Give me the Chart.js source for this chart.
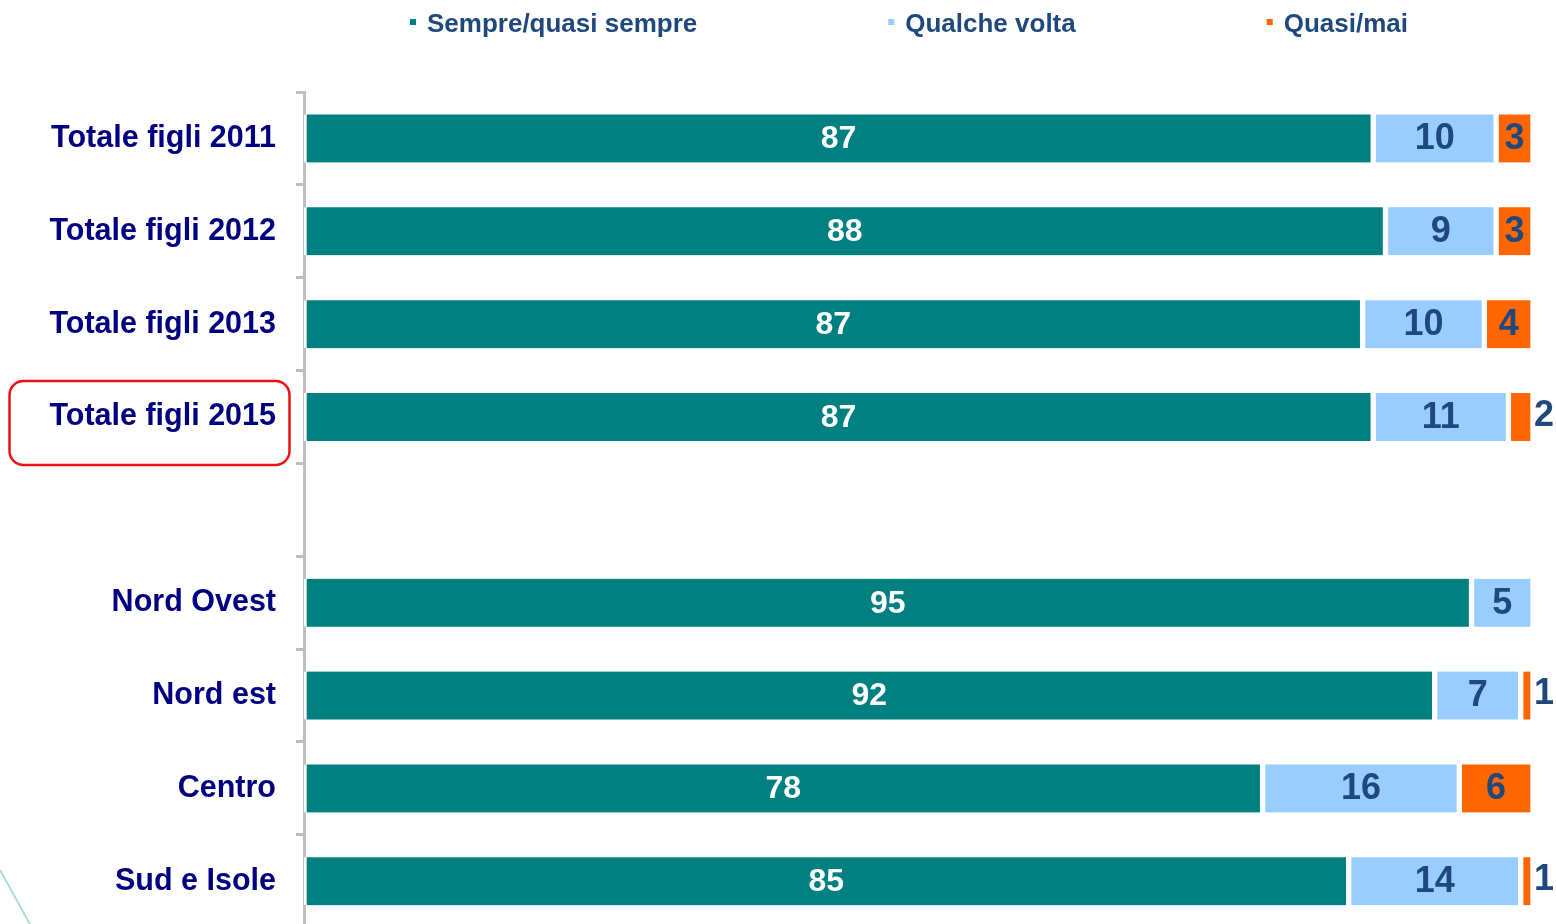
<!DOCTYPE html>
<html>
<head>
<meta charset="utf-8">
<script src="https://cdn.jsdelivr.net/npm/chart.js@4.4.1/dist/chart.umd.min.js"></script>
<style>
  html, body { margin: 0; padding: 0; background: #fff; overflow: hidden; }
  /* the last row runs past the bottom of the window */
  #wrap { position: relative; width: 1556px; height: 966px; }
</style>
</head>
<body>
<div id="wrap"><canvas id="freqChart"></canvas></div>
<script>
// categorie e valori (%)
const categories = [
  "Totale figli 2011",
  "Totale figli 2012",
  "Totale figli 2013",
  "Totale figli 2015",
  "",
  "Nord Ovest",
  "Nord est",
  "Centro",
  "Sud e Isole",
];
const sempre = [87, 88, 87, 87, null, 95, 92, 78, 85];
const qualche = [10, 9, 10, 11, null, 5, 7, 16, 14];
const quasiMai = [3, 3, 4, 2, null, null, 1, 6, 1];

const seriesNames = ["Sempre/quasi sempre", "Qualche volta", "Quasi/mai"];
const seriesColors = ["#008080", "#99CCFF", "#FF6600"];

const FONT = '"Liberation Sans", Arial, sans-serif';

// barre al 100%: ogni riga viene riportata sul suo totale
const totals = categories.map(function (c, i) {
  return (sempre[i] || 0) + (qualche[i] || 0) + (quasiMai[i] || 0);
});
function share(arr) {
  return arr.map(function (v, i) {
    return v == null ? null : (v / totals[i]) * 100;
  });
}

function makeDataset(idx, values) {
  return {
    label: seriesNames[idx],
    values: values,
    data: share(values),
    backgroundColor: seriesColors[idx],
    borderColor: "#ffffff",
    borderWidth: { left: 3, right: 3, top: 0, bottom: 0 },
    borderSkipped: false,
    barThickness: 48,
  };
}

/* ===== etichette dei valori ===== */
const valueLabels = {
  id: "valueLabels",
  afterDatasetsDraw(chart) {
    const ctx = chart.ctx;
    ctx.save();
    ctx.textBaseline = "middle";
    chart.data.datasets.forEach(function (ds, di) {
      const meta = chart.getDatasetMeta(di);
      // bianco sul verde, blu scuro (più grande) sugli altri
      ctx.font = (di === 0 ? "bold 32px " : "bold 36px ") + FONT;
      meta.data.forEach(function (bar, i) {
        const v = ds.values[i];
        if (v == null) return;
        const w = Math.abs(bar.x - bar.base);
        if (w > 30) {
          ctx.textAlign = "center";
          ctx.fillStyle = di === 0 ? "#ffffff" : "#1F497D";
          ctx.fillText(String(v), (bar.x + bar.base) / 2, bar.y + 1);
        } else {
          // segmento troppo stretto: numero a destra
          ctx.textAlign = "left";
          ctx.fillStyle = "#1F497D";
          ctx.fillText(String(v), bar.x + 1, bar.y - 1);
        }
      });
    });
    ctx.restore();
  },
};

/* ===== legenda in alto + riquadro 2015 ===== */
const decorations = {
  id: "decorations",
  afterDraw(chart) {
    const ctx = chart.ctx;
    ctx.save();

    // legenda
    ctx.font = "bold 26px " + FONT;
    ctx.textBaseline = "alphabetic";
    ctx.textAlign = "left";
    let x = 410;
    chart.data.datasets.forEach(function (ds) {
      ctx.fillStyle = ds.backgroundColor;
      ctx.fillRect(x, 19, 6, 6);
      ctx.fillStyle = "#1F497D";
      ctx.fillText(ds.label, x + 17, 32);
      x += 17 + ctx.measureText(ds.label).width + 191;
    });

    // riquadro rosso attorno a "Totale figli 2015"
    const y = chart.scales.y;
    const cy = y.getPixelForValue(3);
    ctx.strokeStyle = "#EE1111";
    ctx.lineWidth = 2.5;
    ctx.beginPath();
    ctx.roundRect(9.5, cy - 36, 280, 84, 14);
    ctx.stroke();

    // linea decorativa in basso a sinistra
    ctx.strokeStyle = "#A9DEDE";
    ctx.lineWidth = 2;
    ctx.beginPath();
    ctx.moveTo(0, 870);
    ctx.lineTo(31, 926);
    ctx.stroke();

    ctx.restore();
  },
};

const ctx = document.getElementById("freqChart");

new Chart(ctx, {
  type: "bar",
  data: {
    labels: categories,
    datasets: [
      makeDataset(0, sempre),
      makeDataset(1, qualche),
      makeDataset(2, quasiMai),
    ],
  },
  options: {
    indexAxis: "y",
    responsive: true,
    maintainAspectRatio: false,
    animation: false,
    layout: { padding: { top: 92, right: 23, left: 0, bottom: 0 } },
    plugins: {
      legend: { display: false },
      tooltip: { enabled: false },
    },
    scales: {
      x: {
        stacked: true,
        min: 0,
        max: 100,
        display: false,
      },
      y: {
        stacked: true,
        afterFit: function (scale) {
          scale.width = 304;
        },
        border: { display: true, color: "#BFBFBF", width: 3 },
        grid: {
          offset: true,
          drawOnChartArea: false,
          drawTicks: true,
          tickLength: 8,
          color: "#BFBFBF",
          lineWidth: 3,
        },
        ticks: {
          color: "#000080",
          padding: 20,
          font: { family: FONT, size: 30.5, weight: "bold" },
        },
      },
    },
  },
  plugins: [valueLabels, decorations],
});
</script>
</body>
</html>
